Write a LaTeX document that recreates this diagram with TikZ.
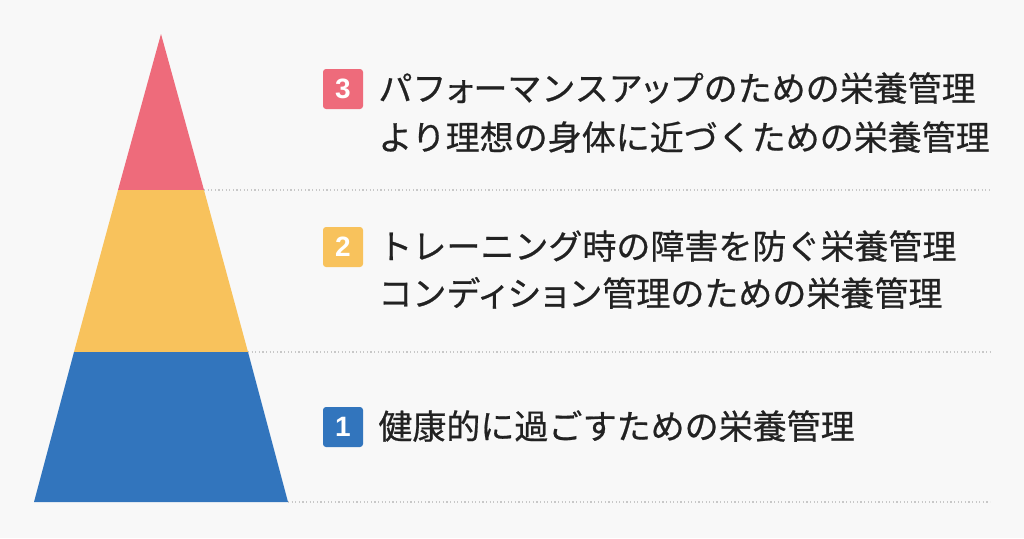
\documentclass[tikz,border=0pt]{standalone}
\usepackage{fontspec}
\usepackage{xcolor}
\usetikzlibrary{positioning}
\newfontfamily\jpfont{Noto Sans CJK JP}[RawFeature={embolden=0.6}]
\newfontfamily\numfont{Liberation Sans}
\newcommand{\sk}[1]{\kern-3.5pt#1\kern-3.5pt}
\definecolor{bgGray}{HTML}{F8F8F8}
\definecolor{lvRed}{HTML}{EE6B7B}
\definecolor{lvYellow}{HTML}{F8C25C}
\definecolor{lvBlue}{HTML}{3275BD}
\definecolor{txtDark}{HTML}{222222}
\definecolor{dotGray}{HTML}{C8C8C8}

\begin{document}
\begin{tikzpicture}[x=1pt,y=-1pt,on grid]
	\tikzstyle{item}=[txtDark,inner sep=0,anchor=west,font=\jpfont\fontsize{34}{40}\selectfont,text height=29pt,text depth=5pt]
	\tikzstyle{badge}=[rectangle,rounded corners=3pt,minimum size=40pt,inner sep=0,text=white,font=\numfont\bfseries\fontsize{28}{30}\selectfont]
	\tikzstyle{sep}=[dotGray,line width=1.2pt,dash pattern=on 1.2pt off 2.4pt]
	
	%
	% background
	%
	\fill [bgGray] (0,0) rectangle (1024,538);
	
	%
	% pyramid
	%
	\coordinate (apex) at (161,34);
	\coordinate (top-l) at (118,190);
	\coordinate (top-r) at (204,190);
	\coordinate (mid-l) at (74,352);
	\coordinate (mid-r) at (248,352);
	\coordinate (base-l) at (34,502);
	\coordinate (base-r) at (288,502);
	
	\fill [lvRed] (apex) -- (top-r) -- (top-l) -- cycle;
	\fill [lvYellow] (top-l) -- (top-r) -- (mid-r) -- (mid-l) -- cycle;
	\fill [lvBlue] (mid-l) -- (mid-r) -- (base-r) -- (base-l) -- cycle;
	
	%
	% separators
	%
	\coordinate (end-3) at (990,190);
	\coordinate (end-2) at (990,352);
	\coordinate (end-1) at (990,502);
	\draw [sep] (top-r) -- (end-3);
	\draw [sep] (mid-r) -- (end-2);
	\draw [sep] (base-r) -- (end-1);
	
	%
	% level 3
	%
	\node [badge,fill=lvRed] (badge-3) at (343,89) {3};
	\node [item,right=15pt of badge-3.east] (line-3a) {パフ\sk{ォ}ーマンスア\sk{ッ}プのための栄養管理};
	\node [item,below=49pt of line-3a.west,anchor=west] (line-3b) {より理想の身体に近づくための栄養管理};
	
	%
	% level 2
	%
	\node [badge,fill=lvYellow] (badge-2) at (343,247) {2};
	\node [item,right=15pt of badge-2.east] (line-2a) {トレーニング時の障害を防ぐ栄養管理};
	\node [item,below=47pt of line-2a.west,anchor=west] (line-2b) {コンデ\sk{ィ}シ\sk{ョ}ン管理のための栄養管理};
	
	%
	% level 1
	%
	\node [badge,fill=lvBlue] (badge-1) at (343,427) {1};
	\node [item,right=15pt of badge-1.east] (line-1a) {健康的に過ごすための栄養管理};
	
\end{tikzpicture}
\end{document}
